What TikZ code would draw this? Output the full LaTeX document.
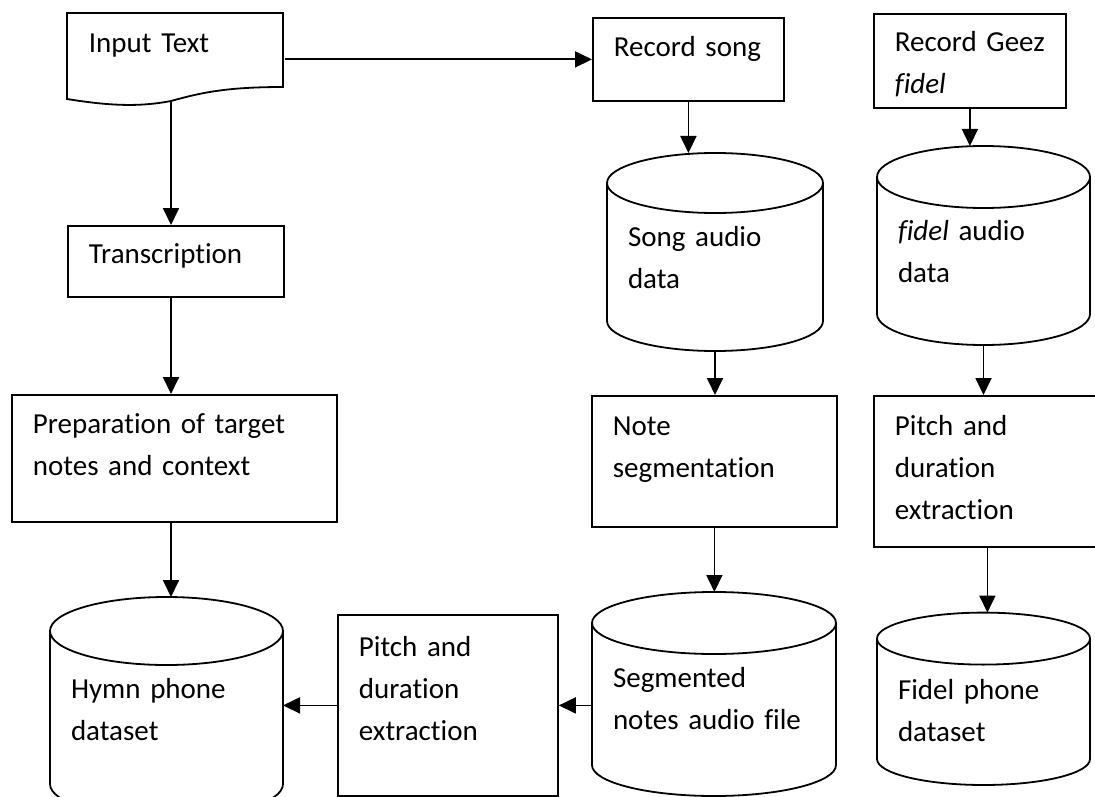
\documentclass[tikz,border=0pt]{standalone}
\usepackage{fontspec}
\setmainfont{Carlito}[Ligatures=NoCommon]
\usetikzlibrary{arrows.meta}
\begin{document}
\begin{tikzpicture}[x=1pt,y=-1pt,
    every node/.style={font=\fontsize{29}{42}\selectfont},
    procbox/.style={draw, rectangle, anchor=north west, align=left,
        inner xsep=21pt, inner ysep=0pt, line width=1.8pt},
    dbbox/.style={procbox, draw=none, outer sep=0pt},
    arr/.style={line width=1.8pt, -{Triangle[length=17pt,width=16pt]}}
]
    \newcommand{\dbshape}[3]{
        \draw[line width=1.8pt] ([yshift=-#3pt]#1.north west) -- ([yshift=#3pt]#1.south west)
            arc[start angle=180, end angle=360, x radius=#2pt, y radius=#3pt]
            -- ([yshift=-#3pt]#1.north east);
        \draw[line width=1.8pt] ([yshift=-#3pt]#1.north) ellipse[x radius=#2pt, y radius=#3pt];
    }
\useasboundingbox (0,0) rectangle (1095,797);

\draw[line width=1.8pt] (67,13) -- (283,13) -- (283,87)
    .. controls (225,87) and (200,93) .. (171,101) coordinate (wave)
    .. controls (140,107) and (110,106) .. (67,99) -- cycle;
\node[procbox, draw=none, text width=174pt, text height=39pt, text depth=47pt] (intext) at (67,13) {Input Text};

\node[procbox, text width=149pt, text height=39pt, text depth=44pt] (recsong) at (592,17) {Record song};
\node[procbox, text width=150pt, text height=37.5pt, text depth=56.5pt] (recgeez) at (873,13) {Record Geez\\\textit{fidel}};
\node[procbox, text width=174pt, text height=38pt, text depth=33pt] (transcr) at (67,225) {Transcription};
\node[procbox, text width=283pt, text height=39pt, text depth=88pt] (prep) at (11,394) {Preparation of target\\notes and context};
\node[procbox, text width=203pt, text height=40pt, text depth=91pt] (noteseg) at (591,395) {Note\\segmentation};
\node[procbox, text width=185pt, text height=40pt, text depth=111pt] (pitchR) at (873,395) {Pitch and\\duration\\extraction};
\node[procbox, text width=178pt, text height=42pt, text depth=139pt] (pitchL) at (337,614) {Pitch and\\duration\\extraction};

\node[dbbox, text width=174pt, text height=93pt, text depth=105pt] (songcyl) at (607,153) {Song audio\\data};
\node[dbbox, text width=171pt, text height=94.6pt, text depth=104.4pt] (fidcyl) at (877,146) {\textit{fidel} audio\\data};
\node[dbbox, text width=191pt, text height=101.6pt, text depth=119.4pt] (hymncyl) at (50,597) {Hymn phone\\dataset};
\node[dbbox, text width=202pt, text height=95.7pt, text depth=108.3pt] (segcyl) at (592,592) {Segmented\\notes audio file};
\node[dbbox, text width=171pt, text height=87pt, text depth=85.4pt] (fidphcyl) at (877,612.6) {Fidel phone\\dataset};
\dbshape{songcyl}{108}{30}
\dbshape{fidcyl}{106.5}{31}
\dbshape{hymncyl}{116.5}{34}
\dbshape{segcyl}{122}{31}
\dbshape{fidphcyl}{106.5}{26}

\draw[arr] (recsong.west -| intext.east) -- (recsong.west);
\draw[arr] (wave) -- (wave |- transcr.north);
\draw[arr] (wave |- transcr.south) -- (wave |- prep.north);
\draw[arr] (wave |- prep.south) -- (wave |- hymncyl.north);
\draw[arr] (recsong.south) -- (recsong.south |- songcyl.north);
\draw[arr] (recgeez.south) -- (recgeez.south |- fidcyl.north);
\draw[arr] (songcyl.south) -- (songcyl.south |- noteseg.north);
\draw[arr] (fidcyl.south) -- (fidcyl.south |- pitchR.north);
\draw[arr] (noteseg.south) -- (noteseg.south |- segcyl.north);
\draw[arr] (pitchR.south) -- (pitchR.south |- fidphcyl.north);
\draw[arr] (pitchL.east -| segcyl.west) -- (pitchL.east);
\draw[arr] (pitchL.west) -- (pitchL.west -| hymncyl.east);

\end{tikzpicture}
\end{document}
